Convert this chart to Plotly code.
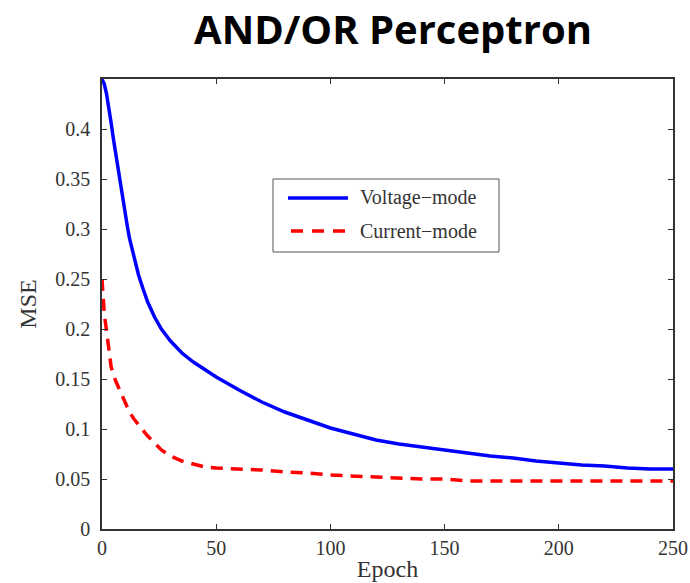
import plotly.graph_objects as go

# Training error of the AND/OR perceptron per epoch
epochs_voltage = [0, 1, 2, 3, 4, 5, 6, 7, 8, 9, 10, 11, 12, 14, 16, 18, 20, 23, 26, 30,
                  35, 40, 45, 50, 60, 70, 80, 90, 100, 110, 120, 130, 140, 150, 160,
                  170, 180, 190, 200, 210, 220, 230, 240, 250]
mse_voltage = [0.450, 0.445, 0.435, 0.422, 0.406, 0.390, 0.375, 0.360, 0.346, 0.333,
               0.319, 0.304, 0.291, 0.271, 0.254, 0.240, 0.227, 0.212, 0.200, 0.188,
               0.176, 0.167, 0.159, 0.152, 0.139, 0.127, 0.117, 0.109, 0.101, 0.095,
               0.089, 0.085, 0.082, 0.079, 0.076, 0.073, 0.071, 0.068, 0.066, 0.064,
               0.063, 0.061, 0.060, 0.060]

epochs_current = [0, 1, 2, 4, 6, 8, 10, 12, 14, 16, 18, 20, 23, 26, 30, 35, 40, 45, 50,
                  60, 70, 80, 90, 100, 110, 120, 130, 140, 150, 160, 170, 200, 250]
mse_current = [0.250, 0.215, 0.198, 0.162, 0.148, 0.137, 0.126, 0.117, 0.110, 0.104,
               0.099, 0.093, 0.086, 0.079, 0.073, 0.068, 0.065, 0.062, 0.061,
               0.060, 0.059, 0.057, 0.056, 0.054, 0.053, 0.052, 0.051, 0.050, 0.050,
               0.048, 0.048, 0.048, 0.048]

series_names = ["Voltage\u2212mode", "Current\u2212mode"]
y_ticks = [0, 0.05, 0.1, 0.15, 0.2, 0.25, 0.3, 0.35, 0.4]
y_tick_text = ["0", "0.05", "0.1", "0.15", "0.2", "0.25", "0.3", "0.35", "0.4"]
x_ticks = [0, 50, 100, 150, 200, 250]

serif = "Liberation Serif, Times New Roman, serif"
axis_color = "#333333"

fig = go.Figure()
fig.add_trace(go.Scatter(x=epochs_voltage, y=mse_voltage, mode="lines",
                         name=series_names[0],
                         line=dict(color="#0000ff", width=3.5)))
fig.add_trace(go.Scatter(x=epochs_current, y=mse_current, mode="lines",
                         name=series_names[1],
                         line=dict(color="#ff0000", width=3.5, dash="12px,8px")))

axis_common = dict(showline=True, linecolor=axis_color, linewidth=1.5, mirror="ticks",
                   ticks="inside", ticklen=5, tickcolor=axis_color, tickwidth=1,
                   showgrid=False, zeroline=False, automargin=False,
                   tickfont=dict(family=serif, size=20, color=axis_color))

fig.update_xaxes(range=[0, 250], tickvals=x_ticks,
                 title=dict(text="Epoch", font=dict(family=serif, size=24, color=axis_color),
                            standoff=2),
                 **axis_common)
fig.update_yaxes(range=[0, 0.45], tickvals=y_ticks, ticktext=y_tick_text,
                 ticklabelstandoff=6,
                 title=dict(text="MSE", font=dict(family=serif, size=24, color=axis_color),
                            standoff=12),
                 **axis_common)

# Hand-drawn legend box in paper coordinates
L, T, W, H = 102.0, 79.0, 571.0, 450.0
def px(x):
    return (x - L) / W
def py(y):
    return (T + H - y) / H

fig.add_shape(type="rect", xref="paper", yref="paper",
              x0=px(273), x1=px(499), y0=py(252), y1=py(179),
              line=dict(color="#555555", width=1), fillcolor="white", layer="above")
fig.add_shape(type="line", xref="paper", yref="paper",
              x0=px(288), x1=px(348), y0=py(198), y1=py(198),
              line=dict(color="#0000ff", width=3.5), layer="above")
fig.add_shape(type="line", xref="paper", yref="paper",
              x0=px(291), x1=px(348), y0=py(231), y1=py(231),
              line=dict(color="#ff0000", width=3.5, dash="12px,9px"), layer="above")
for name, ypos in zip(series_names, [197, 231]):
    fig.add_annotation(xref="paper", yref="paper", x=px(358), y=py(ypos),
                       xanchor="left", yanchor="middle", showarrow=False,
                       text=name, font=dict(family=serif, size=20, color=axis_color))

fig.update_layout(
    width=690, height=583,
    margin=dict(l=102, r=17, t=79, b=54),
    paper_bgcolor="white", plot_bgcolor="white",
    showlegend=False,
    title=dict(text="<b>AND/OR Perceptron</b>", x=393 / 690, xanchor="center",
               y=1 - 30 / 583, yanchor="middle",
               font=dict(family="Open Sans, sans-serif", size=40, color="black")),
)

fig.write_html("out.html")
